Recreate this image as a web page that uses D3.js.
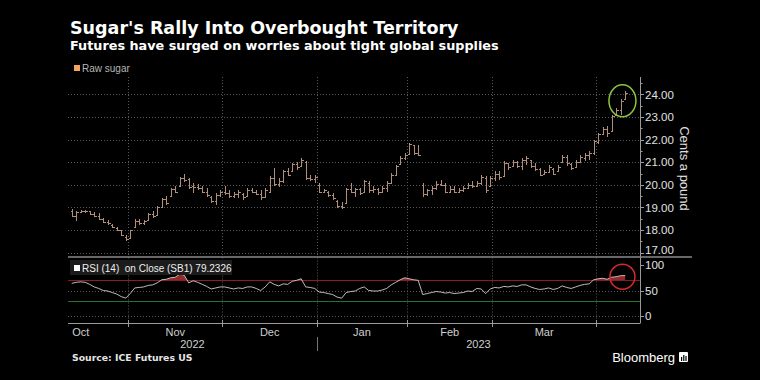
<!DOCTYPE html>
<html><head><meta charset="utf-8">
<script src="https://cdn.jsdelivr.net/npm/d3@7"></script>
<style>body{margin:0;background:#000;}svg{display:block;}</style>
</head><body>
<svg id="chart" width="760" height="380"></svg>
<script>
// ---- data (trading-day index 0 = 13 Oct 2022) ----
const monthLabels = ["Oct","Nov","Dec","Jan","Feb","Mar"];
const monthStartIdx = [-8,13,34,55,75,94,117]; // first trading day index of Oct..Apr
const yearLabels = ["2022","2023"];
const yearStartIdx = [-8,55];
const priceTicks = [17,18,19,20,21,22,23,24];
const rsiTicks = [0,50,100];
const openP = [18.85,18.6,18.8,18.85,18.82,18.72,18.62,18.5,18.36,18.22,18.1,17.98,17.7,
 17.65,18.15,18.4,18.3,18.45,18.7,18.68,19.0,19.35,19.5,19.8,19.95,20.3,20.25,19.95,19.9,19.85,19.7,19.45,19.3,19.55,
 19.7,19.65,19.5,19.6,19.6,19.5,19.75,19.7,19.6,19.45,19.7,20.3,20.05,20.15,20.6,20.6,20.9,20.85,21.0,20.3,20.25,
 20.0,19.7,19.7,19.55,19.3,19.05,19.2,19.8,19.7,19.8,19.7,20.1,19.75,19.8,19.7,19.85,20.1,20.45,20.9,21.2,
 21.35,21.75,21.4,20.0,19.6,19.75,19.85,20.05,20.0,19.7,19.8,19.7,19.75,19.85,20.0,19.95,20.1,20.3,19.95,
 20.3,20.5,20.4,20.95,20.85,21.0,20.85,21.1,21.1,20.85,20.7,20.5,20.55,20.7,20.6,21.0,21.25,20.9,20.8,21.0,21.2,21.3,21.4,
 21.9,22.25,22.45,22.4,23.1,23.3,23.8];
const highP = [18.93,18.86,18.89,18.9,18.86,18.78,18.74,18.55,18.45,18.25,18.15,18.0,17.76,
 18.02,18.48,18.47,18.45,18.74,18.82,19.04,19.42,19.5,19.86,19.96,20.35,20.46,20.3,20.08,20.03,19.95,19.85,19.5,19.63,19.78,
 19.93,19.78,19.7,19.78,19.63,19.85,19.85,19.78,19.78,19.85,20.37,20.74,20.3,20.67,20.75,20.96,21.0,21.2,21.05,20.45,20.45,
 20.08,19.8,19.72,19.63,19.34,19.26,19.85,20.08,19.85,19.85,20.22,20.15,19.93,19.85,19.93,20.15,20.52,20.89,21.26,21.41,
 21.85,21.78,21.78,20.08,19.8,19.93,20.15,20.22,20.08,19.93,19.93,19.85,19.93,20.08,20.15,20.15,20.45,20.37,20.37,
 20.6,20.6,21.04,20.96,21.11,21.04,21.19,21.29,21.11,20.96,20.74,20.67,20.89,20.74,20.89,21.33,21.33,20.96,21.11,21.33,21.41,21.48,22.0,
 22.3,22.55,22.62,23.1,23.4,23.78,24.15];
const lowP = [18.59,18.42,18.74,18.76,18.67,18.56,18.45,18.3,18.22,18.08,17.97,17.74,17.52,
 17.62,18.1,18.22,18.2,18.45,18.55,18.66,18.96,19.1,19.48,19.62,19.92,20.14,19.8,19.63,19.78,19.63,19.48,19.19,19.12,19.48,
 19.56,19.41,19.41,19.42,19.34,19.48,19.63,19.55,19.34,19.41,19.63,19.93,19.9,20.08,20.37,20.6,20.67,20.82,20.22,20.15,20.08,
 19.63,19.63,19.48,19.34,18.97,18.92,19.19,19.63,19.48,19.56,19.7,19.63,19.63,19.56,19.63,19.7,20.08,20.45,20.89,21.11,
 21.33,21.33,21.26,19.48,19.5,19.56,19.78,19.93,19.63,19.63,19.63,19.63,19.7,19.85,19.85,19.93,20.0,19.63,19.9,
 20.15,20.22,20.37,20.67,20.82,20.74,20.67,20.89,20.74,20.6,20.37,20.45,20.52,20.45,20.6,20.96,20.82,20.67,20.74,20.96,21.04,21.11,21.33,
 21.8,22.2,22.1,22.35,23.05,23.1,23.75];
const closeP = [18.62,18.8,18.85,18.82,18.7,18.6,18.5,18.35,18.3,18.12,18.0,17.78,17.58,
 17.98,18.42,18.3,18.38,18.7,18.6,19.0,19.38,19.2,19.8,19.7,20.3,20.2,19.9,19.9,19.85,19.7,19.55,19.3,19.55,19.7,
 19.65,19.5,19.6,19.7,19.45,19.75,19.7,19.6,19.45,19.75,20.3,20.05,20.15,20.6,20.45,20.9,20.8,21.1,20.3,20.25,20.35,
 19.7,19.75,19.55,19.4,19.05,19.0,19.8,19.7,19.8,19.65,20.15,19.75,19.8,19.7,19.85,20.1,20.45,20.85,21.2,21.3,
 21.8,21.4,21.3,19.6,19.75,19.85,20.05,20.0,19.7,19.8,19.7,19.75,19.85,20.0,19.95,20.1,20.35,19.75,20.3,
 20.5,20.35,20.95,20.8,21.0,20.85,21.1,21.2,20.85,20.7,20.45,20.55,20.8,20.5,20.8,21.25,20.95,20.75,21.0,21.25,21.3,21.4,21.95,
 22.25,22.45,22.3,23.05,23.3,23.7,24.05];
const rsiValues = [64,66,67,66,62,57,54,50,49,46,43,38,35,
 44,55,56,57,60,61,65,71,72,75,76,82,80,65,69,66,62,58,53,55,57,
 57,55,53,55,54,57,57,54,50,57,67,62,59,63,62,68,70,73,57,56,54,
 47,46,44,42,37,35,46,48,49,54,57,50,49,49,51,54,61,66,71,75,
 73,71,70,42,44,46,48,47,45,46,44,45,46,49,48,54,53,44,53,
 56,55,58,57,59,58,61,61,57,54,52,53,55,52,54,59,56,54,57,60,62,63,71,
 73,74,72,76,77,79,79.2326];
const rsiLast = "79.2326";
const overbought = 70, oversold = 30;

// ---- layout ----
const L = 68, R = 640;
const pTop = 77, pBot = 256.5, rTop = 257.5, rBot = 323;
const svg = d3.select("#chart");
svg.append("rect").attr("width",760).attr("height",380).attr("fill","#000");

const bars = openP.map((o,i)=>({i,o,h:highP[i],l:lowP[i],c:closeP[i],r:rsiValues[i]}));
const x = d3.scaleLinear().domain([-0.83,126.3]).range([L,R]);
const y = d3.scaleLinear().domain([17,24]).range([252.6,94.4]);
const yr = d3.scaleLinear().domain([0,100]).range([316,265]);
const px = v => Math.round(v)+0.5;

// titles
svg.append("text").attr("x",70).attr("y",34).text("Sugar's Rally Into Overbought Territory")
  .attr("font-family","DejaVu Sans").attr("font-weight","bold").attr("font-size",17.5).attr("fill","#fff");
svg.append("text").attr("x",70).attr("y",50).text("Futures have surged on worries about tight global supplies")
  .attr("font-family","DejaVu Sans").attr("font-weight","bold").attr("font-size",12.8).attr("fill","#fff");

// legend
svg.append("rect").attr("x",74).attr("y",65).attr("width",6).attr("height",6).attr("fill","#f7a35c");
svg.append("text").attr("x",82).attr("y",72).text("Raw sugar")
  .attr("font-family","Liberation Sans").attr("font-size",10).attr("fill","#b5b5b5");

// grids
const grid = svg.append("g").attr("stroke","#585858").attr("stroke-width",1).attr("stroke-dasharray","1,2");
priceTicks.forEach(t=>grid.append("line").attr("x1",L).attr("x2",R).attr("y1",px(y(t))).attr("y2",px(y(t))));
[0,50].forEach(t=>grid.append("line").attr("x1",L).attr("x2",R).attr("y1",px(yr(t))).attr("y2",px(yr(t))));
monthStartIdx.slice(1).forEach(m=>{
  grid.append("line").attr("x1",px(x(m-0.5))).attr("x2",px(x(m-0.5))).attr("y1",pTop).attr("y2",pBot);
  grid.append("line").attr("x1",px(x(m-0.5))).attr("x2",px(x(m-0.5))).attr("y1",rTop).attr("y2",rBot);
});

// OHLC bars
const gb = svg.append("g").attr("stroke","#b08f7a").attr("stroke-width",1).attr("shape-rendering","crispEdges");
bars.forEach(b=>{
  const cx = Math.round(x(b.i));
  gb.append("line").attr("x1",cx+0.5).attr("x2",cx+0.5).attr("y1",y(b.h)).attr("y2",y(b.l));
  gb.append("line").attr("x1",cx-1.5).attr("x2",cx+0.5).attr("y1",px(y(b.o))).attr("y2",px(y(b.o)));
  gb.append("line").attr("x1",cx+0.5).attr("x2",cx+2.5).attr("y1",px(y(b.c))).attr("y2",px(y(b.c)));
});

// right axis price
const ax = svg.append("g").attr("stroke","#9a9a9a").attr("stroke-width",1);
ax.append("line").attr("x1",R+0.5).attr("x2",R+0.5).attr("y1",pTop).attr("y2",rBot);
priceTicks.forEach(t=>{
  ax.append("line").attr("x1",R).attr("x2",R+4).attr("y1",px(y(t))).attr("y2",px(y(t)));
  ax.append("line").attr("x1",R).attr("x2",R+2.5).attr("y1",px(y(t+0.5))).attr("y2",px(y(t+0.5)));
});
svg.append("g").selectAll("text").data(priceTicks).join("text")
  .attr("x",R+5).attr("y",d=>Math.min(y(d),pBot-7)).attr("dy","0.36em").text(d=>d3.format(".2f")(d))
  .attr("font-family","Liberation Sans").attr("font-size",11.5).attr("fill","#e0e0e0");
svg.append("text").attr("transform",`translate(680,${(y(24)+y(17))/2-5}) rotate(90)`).attr("text-anchor","middle")
  .text("Cents a pound").attr("font-family","Liberation Sans").attr("font-size",13).attr("fill","#e0e0e0");

// panel separator
svg.append("line").attr("x1",L).attr("x2",692).attr("y1",257).attr("y2",257).attr("stroke","#8a8a8a").attr("stroke-width",1.5);

// RSI panel
svg.append("line").attr("x1",L).attr("x2",R).attr("y1",px(yr(overbought))).attr("y2",px(yr(overbought))).attr("stroke","#861c1c").attr("stroke-width",1).attr("shape-rendering","crispEdges");
svg.append("line").attr("x1",L).attr("x2",R).attr("y1",px(yr(oversold))).attr("y2",px(yr(oversold))).attr("stroke","#25702a").attr("stroke-width",1).attr("shape-rendering","crispEdges");
svg.append("clipPath").attr("id","ob").append("rect").attr("x",L).attr("y",rTop).attr("width",R-L).attr("height",yr(overbought)-rTop);
svg.append("path").datum(bars).attr("clip-path","url(#ob)")
  .attr("d",d3.area().x(d=>x(d.i)).y0(yr(overbought)).y1(d=>yr(d.r)))
  .attr("fill","#a83232").attr("opacity",0.85);
svg.append("path").datum(bars).attr("d",d3.line().x(d=>x(d.i)).y(d=>yr(d.r)))
  .attr("fill","none").attr("stroke","#d0d0d0").attr("stroke-width",0.9);
rsiTicks.forEach(t=>ax.append("line").attr("x1",R).attr("x2",R+4).attr("y1",px(yr(t))).attr("y2",px(yr(t))));
svg.append("g").selectAll("text").data(rsiTicks).join("text")
  .attr("x",R+5).attr("y",d=>yr(d)).attr("dy","0.36em").text(d=>d)
  .attr("font-family","Liberation Sans").attr("font-size",11.5).attr("fill","#e0e0e0");
// RSI legend box
svg.append("rect").attr("x",70).attr("y",260).attr("width",162).attr("height",15).attr("fill","#1c1c1c");
svg.append("rect").attr("x",74).attr("y",265).attr("width",6).attr("height",6).attr("fill","#fff");
svg.append("text").attr("x",82).attr("y",271.5).attr("xml:space","preserve").text("RSI (14)  on Close (SB1) "+rsiLast)
  .attr("font-family","Liberation Sans").attr("font-size",10).attr("fill","#eee");

// annotations
const last = bars.length-1;
svg.append("ellipse").attr("cx",x(last-0.6)).attr("cy",y(23.72)).attr("rx",13.5).attr("ry",16)
  .attr("fill","none").attr("stroke","#8cc63f").attr("stroke-width",1.5);
svg.append("circle").attr("cx",x(last-0.6)).attr("cy",yr(77)).attr("r",12.5)
  .attr("fill","none").attr("stroke","#d42a2f").attr("stroke-width",1.5);

// x axis
ax.append("line").attr("x1",L).attr("x2",R+0.5).attr("y1",rBot+0.5).attr("y2",rBot+0.5);
monthStartIdx.slice(1).forEach(m=>ax.append("line").attr("x1",px(x(m-0.5))).attr("x2",px(x(m-0.5))).attr("y1",rBot-3).attr("y2",rBot+4));
svg.append("g").selectAll("text").data(monthLabels).join("text")
  .attr("x",(d,k)=>x((monthStartIdx[k]+monthStartIdx[k+1]-1)/2)).attr("y",336).attr("text-anchor","middle").text(d=>d)
  .attr("font-family","Liberation Sans").attr("font-size",11).attr("fill","#cfcfcf");
svg.append("g").selectAll("text").data(yearLabels).join("text")
  .attr("x",(d,k)=>{const a=Math.max(L,x(yearStartIdx[k]-0.5)); const b=k+1<yearStartIdx.length?x(yearStartIdx[k+1]-0.5):R; return (a+b)/2;})
  .attr("y",348).attr("text-anchor","middle").text(d=>d)
  .attr("font-family","Liberation Sans").attr("font-size",11).attr("fill","#cfcfcf");
svg.append("line").attr("x1",px(x(yearStartIdx[1]-0.5))).attr("x2",px(x(yearStartIdx[1]-0.5))).attr("y1",337).attr("y2",351).attr("stroke","#777");

// footer
svg.append("text").attr("x",72).attr("y",361).text("Source: ICE Futures US")
  .attr("font-family","DejaVu Sans").attr("font-weight","bold").attr("font-size",9.3).attr("fill","#e6e6e6");
svg.append("text").attr("x",675).attr("y",362).attr("text-anchor","end").text("Bloomberg")
  .attr("font-family","Liberation Sans").attr("font-size",13).attr("fill","#fff");
const logo = svg.append("g");
logo.append("rect").attr("x",679).attr("y",352).attr("width",9).attr("height",10).attr("rx",1).attr("fill","#fff");
[[681,357,1.2,4],[683.2,355,1.2,6],[685.4,356,1.2,5]].forEach(r=>logo.append("rect").attr("x",r[0]).attr("y",r[1]).attr("width",r[2]).attr("height",r[3]).attr("fill","#000"));
</script>
</body></html>
